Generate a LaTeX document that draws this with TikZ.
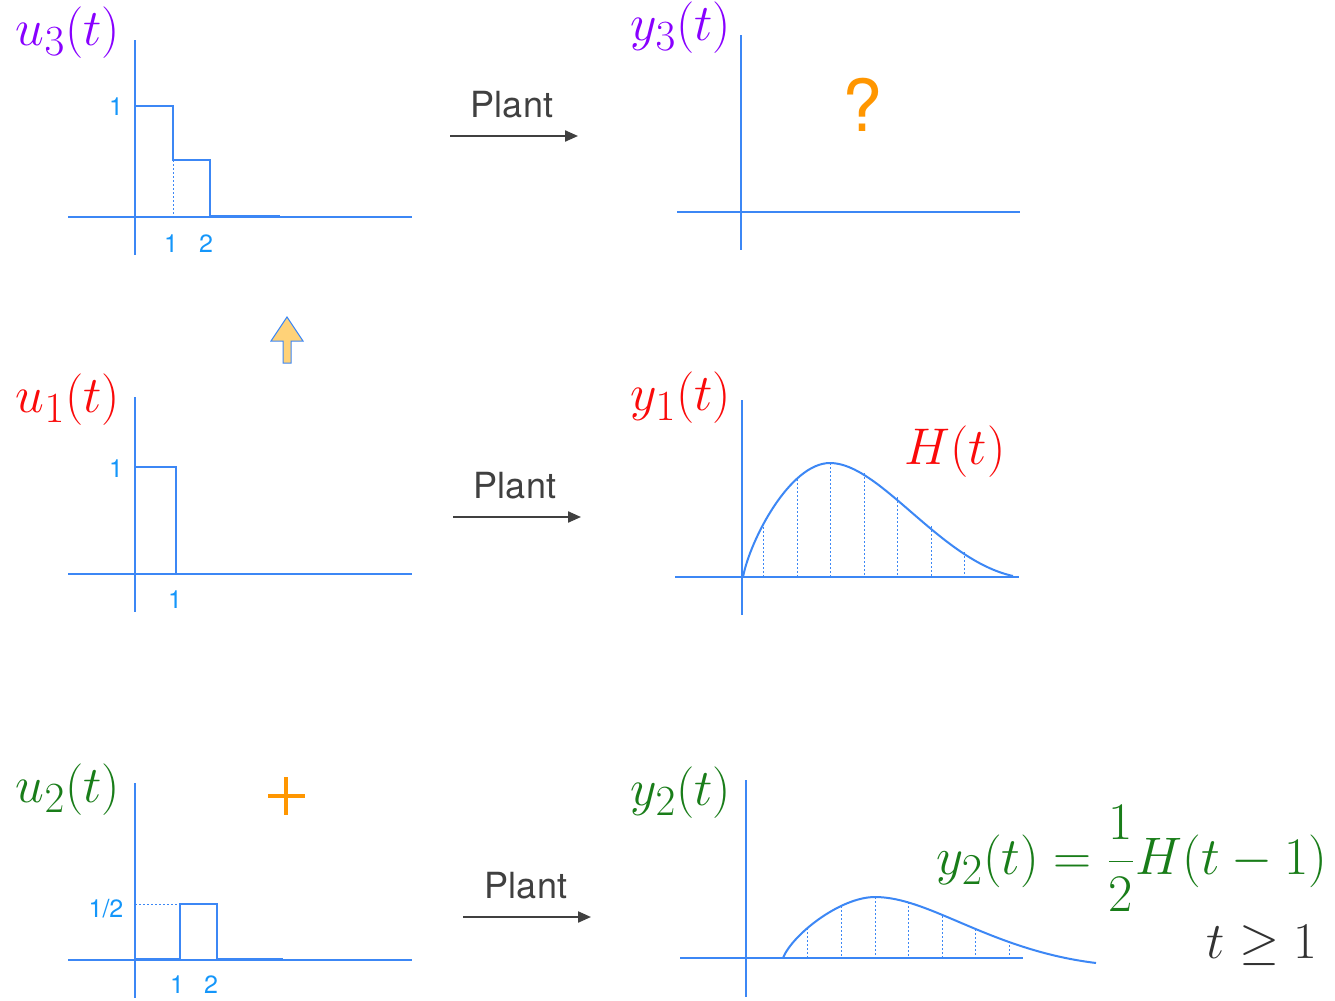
\documentclass[tikz,border=0pt]{standalone}
\usepackage{graphicx}
\usepackage{fontspec}
\newfontfamily\helv{TeX Gyre Heros}
\usetikzlibrary{arrows.meta}
\newdimen\px \px=0.5183pt
\newcommand\slab[1]{\scalebox{1.075}{$#1$}}
\definecolor{axisblue}{RGB}{60,135,245}
\definecolor{tickblue}{RGB}{20,150,250}
\definecolor{upurple}{RGB}{136,0,255}
\definecolor{ured}{RGB}{250,10,10}
\definecolor{ugreen}{RGB}{25,125,25}
\definecolor{uorange}{RGB}{255,150,0}
\definecolor{plantgray}{RGB}{64,64,64}
\definecolor{condgray}{RGB}{50,50,50}
\definecolor{iconfill}{RGB}{255,210,120}
\tikzset{
  axisline/.style={draw=axisblue, line width=2\px},
  sigline/.style={draw=axisblue, line width=2\px, line join=miter},
  curveline/.style={draw=axisblue, line width=2\px},
  guide/.style={draw=axisblue, line width=1\px, dash pattern=on 2\px off 2\px},
  ticklab/.style={text=tickblue, font=\helv\fontsize{12.96}{15}\selectfont, inner sep=0pt},
  siglab/.style={font=\fontsize{24.88}{30}\selectfont, inner sep=0pt},
  plantlab/.style={text=plantgray, font=\helv\fontsize{18.66}{22}\selectfont, inner sep=0pt},
  plantarrow/.style={draw=plantgray, line width=2\px, -{Triangle[length=6.7pt,width=5.7pt]}},
}
\begin{document}
\begin{tikzpicture}[x=\px,y=-\px]
\useasboundingbox[fill=white] (0,0) rectangle (1335,1000);

% ===== Top left: u3 =====
\draw[axisline] (68,217) -- (412,217);
\draw[axisline] (135,40) -- (135,255);
\draw[sigline] (135,106) -- (173,106) -- (173,160) -- (210,160) -- (210,217);
\draw[guide] (173,160) -- (173,217);
\draw[draw=axisblue, line width=3\px] (210,216) -- (280,216);
\node[ticklab] (u3y1) at (116,107) {1};
\node[ticklab] (u3x1) at (171,244) {1};
\node[ticklab] (u3x2) at (206,244) {2};
\node[siglab, text=upurple] (u3lab) at (68,33) {\slab{u_3(t)}};

% ===== Top right: y3 =====
\draw[axisline] (677,212) -- (1020,212);
\draw[axisline] (741,35) -- (741,250);
\node[siglab, text=upurple] (y3lab) at (681,28) {\slab{y_3(t)}};
\node[text=uorange, font=\helv\fontsize{37.3}{42}\selectfont, inner sep=0pt] (qmark) at (862,105) {?};

% ===== Plant arrows =====
\node[plantlab] (plant3) at (512,105) {Plant};
\coordinate (a3s) at (450,136); \coordinate (a3e) at (578,136);
\draw[plantarrow] (a3s) -- (a3e);
\node[plantlab] (plant1) at (515,486) {Plant};
\coordinate (a1s) at (453,517); \coordinate (a1e) at (581,517);
\draw[plantarrow] (a1s) -- (a1e);
\node[plantlab] (plant2) at (526,886) {Plant};
\coordinate (a2s) at (463,917); \coordinate (a2e) at (591,917);
\draw[plantarrow] (a2s) -- (a2e);

% ===== Up arrow icon =====
\draw[fill=iconfill, draw=axisblue, line width=1\px] (287,317) -- (303,341) -- (291,341) -- (291,363) -- (283,363) -- (283,341) -- (271,341) -- cycle;

% ===== Middle left: u1 =====
\draw[axisline] (68,574) -- (412,574);
\draw[axisline] (135,397) -- (135,612);
\draw[sigline] (135,467) -- (176,467) -- (176,574);
\node[ticklab] (u1y1) at (116,469) {1};
\node[ticklab] (u1x1) at (175,600) {1};
\node[siglab, text=ured] (u1lab) at (68,400) {\slab{u_1(t)}};

% ===== Middle right: y1 =====
\draw[axisline] (675,577) -- (1019,577);
\draw[axisline] (742,400) -- (742,615);
\foreach \x/\y in {763/523, 797/479, 830/463, 864/473, 897/497, 931/526, 964/552}
  \draw[guide] (\x,\y) -- (\x,577);
\draw[curveline] (743,577) .. controls (750,540) and (790,463) .. (830,463)
                 .. controls (880,463) and (940,560) .. (1013,576);
\node[siglab, text=ured] (y1lab) at (681,398) {\slab{y_1(t)}};
\node[siglab, text=ured] (Hlab) at (955,452) {\slab{H(t)}};

% ===== Bottom left: u2 =====
\draw[axisline] (68,960) -- (412,960);
\draw[axisline] (135,783) -- (135,998);
\draw[sigline] (180,960) -- (180,904) -- (217,904) -- (217,960);
\draw[guide] (135,904) -- (180,904);
\draw[draw=axisblue, line width=1.5\px] (135,959) -- (180,959);
\draw[draw=axisblue, line width=3\px] (217,959) -- (283,959);
\node[ticklab] (u2yh) at (106,909) {1/2};
\node[ticklab] (u2x1) at (177,985) {1};
\node[ticklab] (u2x2) at (211,985) {2};
\node[siglab, text=ugreen] (u2lab) at (68,790) {\slab{u_2(t)}};
\draw[uorange, line width=4\px] (268,796) -- (305,796);
\draw[uorange, line width=4\px] (286,777) -- (286,815);

% ===== Bottom right: y2 =====
\draw[axisline] (680,958) -- (1023,958);
\draw[axisline] (746,780) -- (746,997);
\foreach \x/\y in {807/928, 841/906, 875/897, 908/902, 942/916, 975/929, 1009/941}
  \draw[guide] (\x,\y) -- (\x,958);
\draw[curveline] (783,958) .. controls (792,935) and (840,897) .. (875,897)
                 .. controls (930,897) and (990,950) .. (1096,963);
\node[siglab, text=ugreen] (y2lab) at (681,793) {\slab{y_2(t)}};
\node[siglab, text=ugreen] (eqn) at (1132,858) {\scalebox{1.1}{$\displaystyle y_2(t)=\frac{1}{2}H(t-1)$}};
\node[siglab, text=condgray] (cond) at (1262,945) {\slab{t\geq 1}};
\end{tikzpicture}
\end{document}
